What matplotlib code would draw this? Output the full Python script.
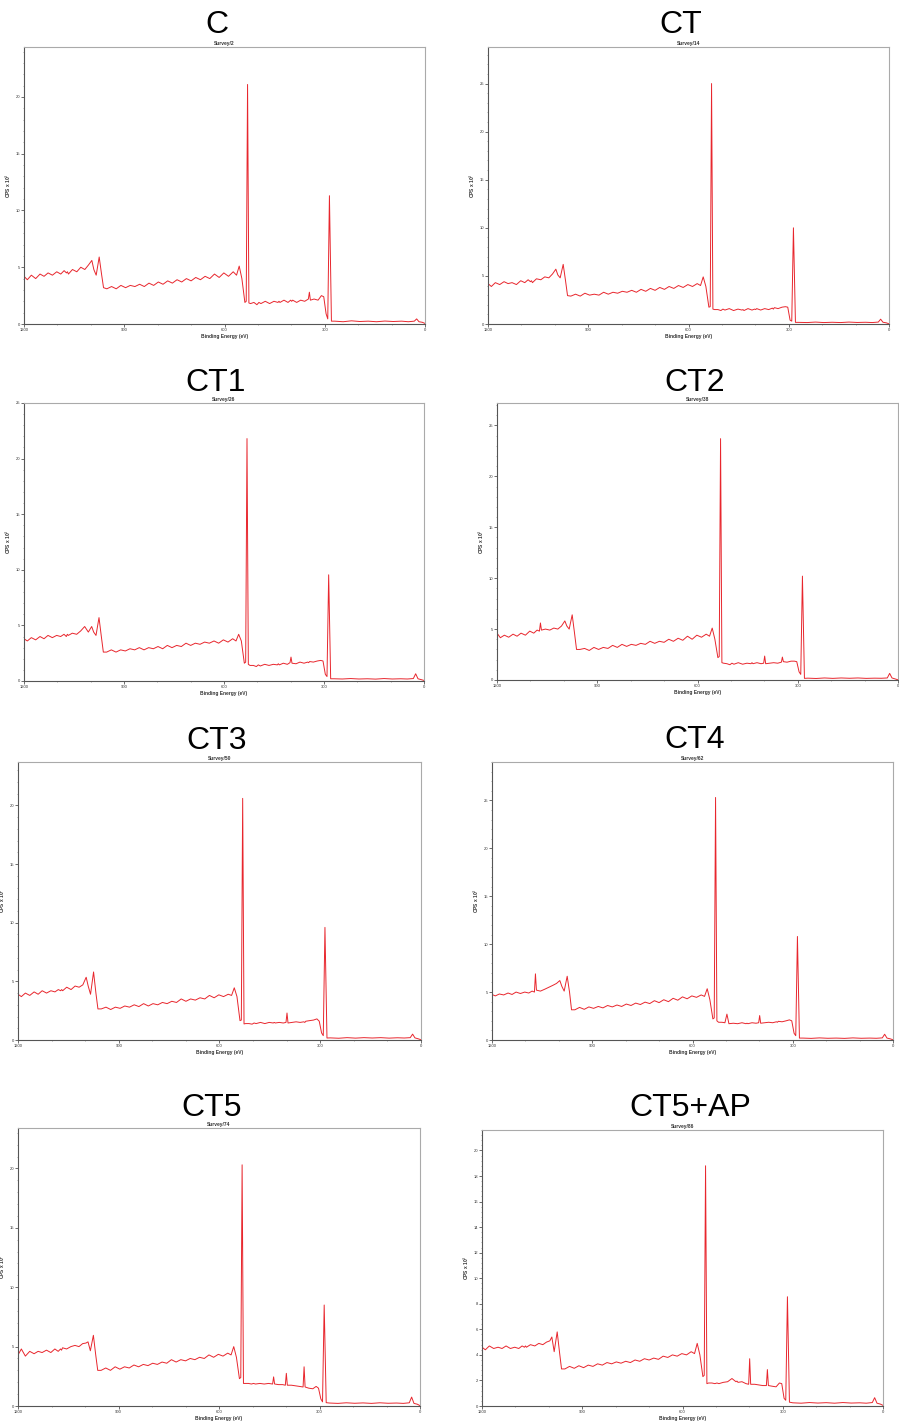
import matplotlib
matplotlib.use("Agg")
import matplotlib.pyplot as plt
from matplotlib.ticker import MultipleLocator

plt.rcParams['font.family'] = ['Liberation Sans', 'DejaVu Sans']

# binding energy grid (eV), shared by all spectra
be = [1200, 1190, 1178, 1165, 1152, 1140, 1128, 1115, 1102, 1090, 1080, 1073, 1070, 1067, 1055, 1042, 1030, 1018, 1007,
      997, 991, 984, 975, 968, 962,
      952, 938, 924, 910, 896, 882, 868, 854, 840, 826, 812, 798, 784, 770, 756, 742, 728, 714, 700, 686, 672, 658, 644, 630, 616, 602, 588, 574, 564,
      556, 548, 539, 535, 531, 527, 522,
      512, 503, 497, 491, 478, 465, 452, 440, 437, 434, 422, 410, 402, 399, 396, 384, 372, 360, 349, 346, 343, 332, 320, 310,
      303, 296, 291, 286, 280,
      270, 245, 220, 195, 170, 145, 120, 95, 70, 50, 32, 25, 18, 8, 0]

# CPS x 10^3 for each sample
cps_c = [4.2, 3.9, 4.3, 4.0, 4.4, 4.2, 4.5, 4.3, 4.6, 4.4, 4.7, 4.5, 4.6, 4.4, 4.8, 4.6, 5.0, 4.8, 5.2,
         5.6, 4.8, 4.3, 5.9, 4.4, 3.2,
         3.1, 3.3, 3.1, 3.4, 3.2, 3.4, 3.3, 3.5, 3.3, 3.6, 3.4, 3.7, 3.5, 3.8, 3.6, 3.9, 3.7, 4.0, 3.8, 4.1, 3.9, 4.2, 4.0, 4.4, 4.1, 4.5, 4.2, 4.6, 4.3,
         5.1, 4.0, 1.9, 2.0, 21.1, 1.85, 1.8,
         1.9, 1.7, 1.9, 1.8, 2.0, 1.8, 2.0, 1.9, 2.0, 1.9, 2.1, 1.9, 2.1, 2.0, 2.1, 1.9, 2.1, 2.0, 2.2, 2.8, 2.1, 2.2, 2.1, 2.5,
         2.4, 0.9, 0.45, 11.3, 0.25,
         0.25, 0.2, 0.28, 0.22, 0.25, 0.2, 0.26, 0.22, 0.25, 0.2, 0.25, 0.45, 0.2, 0.15, 0.05]

cps_ct = [4.2, 3.9, 4.3, 4.1, 4.4, 4.2, 4.3, 4.1, 4.5, 4.3, 4.6, 4.4, 4.5, 4.3, 4.7, 4.6, 4.9, 4.8, 5.2,
          5.7, 5.1, 4.8, 6.2, 4.5, 2.95,
          2.9, 3.1, 2.9, 3.2, 3.0, 3.1, 3.0, 3.3, 3.1, 3.3, 3.2, 3.4, 3.3, 3.5, 3.3, 3.6, 3.4, 3.7, 3.5, 3.8, 3.6, 3.9, 3.7, 4.0, 3.8, 4.1, 3.9, 4.2, 4.0,
          4.9, 3.9, 1.75, 1.8, 25.0, 1.55, 1.5,
          1.5, 1.4, 1.55, 1.45, 1.6, 1.4, 1.55, 1.45, 1.5, 1.4, 1.6, 1.45, 1.55, 1.5, 1.6, 1.45, 1.6, 1.5, 1.65, 1.55, 1.7, 1.6, 1.75, 1.8,
          1.75, 0.4, 0.3, 10.0, 0.17,
          0.17, 0.15, 0.2, 0.15, 0.18, 0.15, 0.2, 0.16, 0.18, 0.15, 0.2, 0.5, 0.18, 0.12, 0.02]

cps_ct1 = [3.8, 3.6, 3.9, 3.7, 4.0, 3.8, 4.1, 3.9, 4.1, 4.0, 4.2, 4.0, 4.2, 4.1, 4.3, 4.2, 4.5, 4.9, 4.4,
           4.9, 4.4, 4.1, 5.7, 4.0, 2.6,
           2.6, 2.8, 2.6, 2.8, 2.7, 2.9, 2.8, 3.0, 2.8, 3.0, 2.9, 3.1, 2.9, 3.2, 3.0, 3.2, 3.1, 3.4, 3.2, 3.4, 3.3, 3.5, 3.4, 3.6, 3.4, 3.7, 3.5, 3.8, 3.6,
           4.2, 3.6, 1.6, 1.7, 21.8, 1.5, 1.4,
           1.4, 1.3, 1.45, 1.35, 1.5, 1.4, 1.5, 1.45, 1.55, 1.45, 1.6, 1.5, 1.65, 2.15, 1.6, 1.55, 1.7, 1.6, 1.7, 1.65, 1.75, 1.7, 1.8, 1.85,
           1.8, 0.6, 0.4, 9.55, 0.2,
           0.2, 0.18, 0.22, 0.18, 0.2, 0.17, 0.22, 0.18, 0.2, 0.18, 0.22, 0.65, 0.2, 0.12, 0.05]

cps_ct2 = [4.6, 4.15, 4.4, 4.2, 4.5, 4.3, 4.6, 4.4, 4.8, 4.6, 4.9, 4.8, 5.6, 4.9, 5.0, 4.9, 5.1, 5.0, 5.3,
           5.8, 5.3, 5.0, 6.4, 4.6, 3.0,
           3.0, 3.1, 2.9, 3.2, 3.0, 3.2, 3.1, 3.4, 3.2, 3.5, 3.3, 3.5, 3.4, 3.6, 3.5, 3.8, 3.6, 3.8, 3.7, 4.0, 3.8, 4.1, 3.9, 4.3, 4.0, 4.4, 4.2, 4.5, 4.3,
           5.1, 4.0, 2.2, 2.3, 23.7, 1.7, 1.65,
           1.6, 1.5, 1.65, 1.55, 1.7, 1.55, 1.65, 1.6, 1.7, 1.6, 1.7, 1.6, 1.65, 2.35, 1.6, 1.65, 1.7, 1.65, 1.75, 2.25, 1.8, 1.75, 1.85, 1.85,
           1.8, 0.8, 0.55, 10.2, 0.16,
           0.18, 0.15, 0.2, 0.16, 0.2, 0.17, 0.2, 0.16, 0.18, 0.17, 0.2, 0.65, 0.2, 0.1, 0.02]

cps_ct3 = [3.9, 3.7, 4.0, 3.8, 4.1, 3.9, 4.2, 4.0, 4.2, 4.1, 4.3, 4.2, 4.3, 4.2, 4.5, 4.3, 4.6, 4.5, 4.7,
           5.35, 4.6, 3.9, 5.8, 4.0, 2.65,
           2.65, 2.8, 2.6, 2.8, 2.7, 2.9, 2.8, 3.0, 2.85, 3.1, 2.9, 3.1, 3.0, 3.2, 3.1, 3.3, 3.2, 3.5, 3.3, 3.5, 3.4, 3.6, 3.5, 3.8, 3.6, 3.85, 3.7, 3.9, 3.8,
           4.45, 3.7, 1.65, 1.7, 20.6, 1.37, 1.4,
           1.4, 1.35, 1.45, 1.4, 1.5, 1.4, 1.5, 1.45, 1.5, 1.45, 1.5, 1.45, 1.5, 2.3, 1.45, 1.5, 1.55, 1.5, 1.55, 1.5, 1.6, 1.65, 1.7, 1.8,
           1.6, 0.6, 0.37, 9.6, 0.17,
           0.18, 0.15, 0.2, 0.16, 0.2, 0.17, 0.2, 0.16, 0.19, 0.17, 0.2, 0.5, 0.18, 0.1, 0.02]

cps_ct4 = [4.75, 4.6, 4.8, 4.7, 4.9, 4.75, 5.0, 4.85, 5.0, 4.9, 5.1, 5.0, 6.9, 5.2, 5.1, 5.3, 5.5, 5.7, 5.9,
           6.2, 5.6, 5.1, 6.65, 5.0, 3.15,
           3.15, 3.4, 3.2, 3.45, 3.3, 3.5, 3.35, 3.6, 3.45, 3.65, 3.5, 3.75, 3.6, 3.85, 3.7, 3.95, 3.8, 4.1, 3.9, 4.2, 4.0, 4.35, 4.15, 4.5, 4.3, 4.6, 4.45, 4.7, 4.55,
           5.35, 4.2, 2.2, 2.3, 25.3, 2.0, 1.85,
           1.85, 1.8, 2.7, 1.7, 1.75, 1.7, 1.8, 1.7, 1.75, 1.7, 1.8, 1.75, 1.8, 2.55, 1.75, 1.8, 1.85, 1.8, 1.9, 1.85, 1.95, 1.9, 2.0, 2.1,
           2.0, 0.7, 0.45, 10.8, 0.2,
           0.2, 0.17, 0.22, 0.18, 0.2, 0.17, 0.22, 0.18, 0.2, 0.18, 0.22, 0.6, 0.2, 0.12, 0.02]

cps_ct5 = [4.3, 4.8, 4.2, 4.6, 4.4, 4.6, 4.5, 4.7, 4.5, 4.8, 4.6, 4.8, 4.7, 4.9, 4.8, 5.0, 5.1, 5.0, 5.25,
           5.3, 5.4, 4.65, 5.95, 4.3, 3.0,
           3.0, 3.2, 3.0, 3.3, 3.1, 3.3, 3.2, 3.45, 3.3, 3.5, 3.4, 3.6, 3.5, 3.7, 3.6, 3.9, 3.7, 3.9, 3.8, 4.0, 3.9, 4.1, 4.0, 4.3, 4.1, 4.35, 4.2, 4.45, 4.3,
           5.0, 4.1, 2.3, 2.4, 20.3, 1.9, 1.9,
           1.9, 1.85, 1.9, 1.85, 1.9, 1.85, 1.9, 1.85, 2.45, 1.85, 1.8, 1.8, 1.75, 2.75, 1.75, 1.75, 1.7, 1.65, 1.6, 3.3, 1.6, 1.5, 1.45, 1.65,
           1.5, 0.6, 0.35, 8.5, 0.28,
           0.25, 0.22, 0.27, 0.23, 0.26, 0.22, 0.27, 0.23, 0.25, 0.22, 0.27, 0.75, 0.22, 0.15, 0.03]

cps_ct5ap = [4.6, 4.4, 4.7, 4.5, 4.6, 4.5, 4.7, 4.5, 4.6, 4.5, 4.7, 4.6, 4.7, 4.6, 4.8, 4.7, 4.9, 4.8, 5.0,
             5.1, 5.4, 4.25, 5.8, 4.2, 2.9,
             2.9, 3.1, 2.95, 3.15, 3.0, 3.2, 3.1, 3.3, 3.2, 3.4, 3.3, 3.45, 3.35, 3.5, 3.4, 3.6, 3.5, 3.7, 3.6, 3.75, 3.65, 3.9, 3.8, 4.0, 3.9, 4.1, 4.0, 4.25, 4.1,
             4.9, 4.0, 2.3, 2.4, 18.8, 1.75, 1.8,
             1.8, 1.75, 1.8, 1.75, 1.85, 1.9, 2.15, 1.9, 1.95, 1.85, 1.9, 1.75, 1.7, 3.7, 1.7, 1.7, 1.65, 1.6, 1.6, 2.85, 1.6, 1.55, 1.5, 1.8,
             1.75, 0.6, 0.45, 8.55, 0.3,
             0.25, 0.22, 0.27, 0.23, 0.26, 0.22, 0.27, 0.23, 0.25, 0.22, 0.27, 0.65, 0.22, 0.15, 0.05]

names = ['C', 'CT', 'CT1', 'CT2', 'CT3', 'CT4', 'CT5', 'CT5+AP']
surveys = ['Survey/2', 'Survey/14', 'Survey/26', 'Survey/38', 'Survey/50', 'Survey/62', 'Survey/74', 'Survey/86']
spectra = [cps_c, cps_ct, cps_ct1, cps_ct2, cps_ct3, cps_ct4, cps_ct5, cps_ct5ap]
y_top = [24.4, 28.8, 25.0, 27.2, 23.7, 29.0, 23.4, 21.6]
y_step = [5, 5, 5, 5, 5, 5, 5, 2]

W, H = 899, 1424
# axes boxes in pixels: left, top, right, bottom
boxes = [(24, 47, 425, 324), (488, 47, 889, 324),
         (24, 403, 424, 681), (497, 403, 898, 680),
         (18, 762, 421, 1040), (492, 762, 893, 1040),
         (18, 1128, 420, 1406), (482, 1130, 883, 1406)]
title_pos = [(217, 25), (681, 25), (216, 383), (695, 383),
             (217, 741), (695, 740), (212, 1108), (690, 1108)]

fig = plt.figure(figsize=(W / 100, H / 100), dpi=100)

for i in range(8):
    l, t, r, b = boxes[i]
    ax = fig.add_axes([l / W, 1 - b / H, (r - l) / W, (b - t) / H])
    ax.plot(be, spectra[i], color='#e8262d', lw=0.7)
    ax.set_xlim(1200, 0)
    ax.set_ylim(0, y_top[i])
    ax.xaxis.set_major_locator(MultipleLocator(300))
    ax.xaxis.set_minor_locator(MultipleLocator(100))
    ax.yaxis.set_major_locator(MultipleLocator(y_step[i]))
    ax.yaxis.set_minor_locator(MultipleLocator(y_step[i] / 5))
    ax.tick_params(which='major', direction='out', length=2, width=0.5,
                   labelsize=3, pad=1, colors='#333333')
    ax.tick_params(which='minor', direction='out', length=1, width=0.4, colors='#666666')
    for side in ['left', 'bottom']:
        ax.spines[side].set_color('#555555')
        ax.spines[side].set_linewidth(0.8)
    for side in ['top', 'right']:
        ax.spines[side].set_color('#aaaaaa')
        ax.spines[side].set_linewidth(0.8)
    ax.set_xlabel('Binding Energy (eV)', fontsize=3.5, fontweight='bold', labelpad=1, color='#333333')
    ax.set_ylabel('CPS x 10$^3$', fontsize=3.5, fontweight='bold', labelpad=2, color='#333333')
    ax.text(0.5, 1.004, surveys[i], transform=ax.transAxes, ha='center', va='bottom',
            fontsize=3.5, fontweight='bold', color='#333333')
    tx, ty = title_pos[i]
    fig.text(tx / W, 1 - ty / H, names[i], ha='center', va='center', fontsize=23, color='black')

fig.savefig('out.png', dpi=100)
